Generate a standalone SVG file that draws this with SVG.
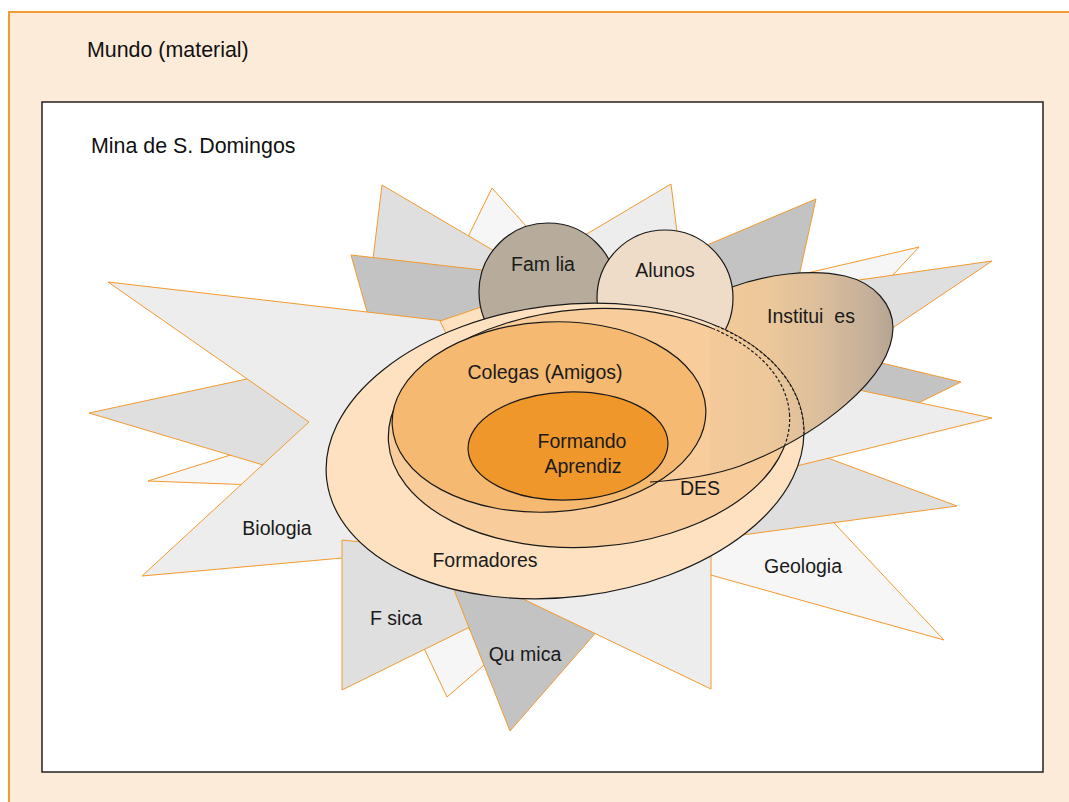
<svg xmlns="http://www.w3.org/2000/svg" width="1069" height="802" viewBox="0 0 1069 802">
<defs>
<style>
.ray{stroke:#F29A2E;stroke-width:1;stroke-linejoin:miter}
.g1{fill:#C3C3C3}.g2{fill:#DFDFDF}.g3{fill:#EDEDED}.g4{fill:#F6F6F6}.g5{fill:#FDE1C1}
.ol{stroke:#1A1A1A;stroke-width:1.2}
.dash{fill:none;stroke:#1A1A1A;stroke-width:1.2;stroke-dasharray:3 2}
.lbl{font-family:"Liberation Sans",Arial,sans-serif;font-size:19.5px;fill:#1A1A1A;text-anchor:middle}
.ttl{font-family:"Liberation Sans",Arial,sans-serif;font-size:21.4px;fill:#111}
</style>
<linearGradient id="instG" gradientUnits="userSpaceOnUse" x1="710" y1="0" x2="895" y2="0">
<stop offset="0" stop-color="#F4C99A"/>
<stop offset="0.3" stop-color="#EDC89A"/>
<stop offset="0.6" stop-color="#DBBE9C"/>
<stop offset="0.85" stop-color="#C6B09A"/>
<stop offset="1" stop-color="#B4A391"/>
</linearGradient>
<path id="instShape" d="M732,287 C765,275 810,268 845,276 C875,283 893,305 893,328 C892,378 820,435 740,466 C728,469 718,471 710,473 L710,330 L728,322 Z"/>
<clipPath id="clipF"><ellipse cx="565" cy="451" rx="240" ry="146" transform="rotate(-7 565 451)"/></clipPath>
<clipPath id="clipI"><use href="#instShape"/></clipPath>
</defs>

<rect x="9" y="12" width="1080" height="800" fill="#FCEBD8" stroke="#F09A38" stroke-width="2"/>
<text class="ttl" x="87" y="57">Mundo (material)</text>
<rect x="42" y="102" width="1001" height="670" fill="#FFFFFF" stroke="#222" stroke-width="1.5"/>
<text class="ttl" x="91" y="153">Mina de S. Domingos</text>

<g id="rays">
<polygon class="ray g4" points="492,188 535,236 548,292 466,241"/>
<polygon class="ray g2" points="382,185 530,272 548,300 368,300"/>
<polygon class="ray g1" points="351,255 500,272 490,330 375,340"/>
<polygon class="ray g3" points="671,184 678,240 600,300 580,238"/>
<polygon class="ray g1" points="816,199 796,290 720,300 700,248"/>
<polygon class="ray g4" points="919,247 880,289 840,300 790,277"/>
<polygon class="ray g2" points="992,261 845,282 850,320 885,333"/>
<polygon class="ray g1" points="961,382 865,359 860,400 900,412"/>
<polygon class="ray g4" points="148,481 240,452 270,468 255,485"/>
<polygon class="ray g2" points="89,413 270,374 320,430 280,470"/>
<polygon class="ray g3" points="108,282 462,323 560,450 420,551 142,576 309,422"/>
<polygon class="ray g5" points="440,321 484,306 520,340 452,345"/>
<polygon class="ray g4" points="447,697 490,660 460,615 422,644"/>
<polygon class="ray g2" points="342,690 480,622 440,550 342,540"/>
<polygon class="ray g1" points="510,731 620,605 540,520 445,567"/>
<polygon class="ray g4" points="944,640 820,508 720,540 705,560 700,572"/>
<polygon class="ray g2" points="957,506 790,444 720,538"/>
<polygon class="ray g3" points="992,418 835,385 760,475"/>
<polygon class="ray g3" points="711,689 711,545 600,480 500,588"/>
</g>

<g id="instituicoes-base">
<use href="#instShape" fill="url(#instG)"/>
</g>

<g id="familia">
<circle cx="548" cy="292" r="69" fill="#B7AB9B" class="ol"/>
<text class="lbl" x="543" y="271" xml:space="preserve">Fam lia</text>
</g>
<g id="alunos">
<circle cx="665" cy="298" r="68" fill="#EEDCC8" class="ol"/>
<text class="lbl" x="665" y="277">Alunos</text>
</g>

<g id="formadores">
<ellipse cx="565" cy="451" rx="240" ry="146" transform="rotate(-7 565 451)" fill="#FDE1C1" class="ol"/>
<text class="lbl" x="485" y="567">Formadores</text>
</g>
<g id="des">
<ellipse cx="589" cy="428" rx="201" ry="119" transform="rotate(-4 589 428)" fill="#F9CD9B" class="ol"/>
</g>
<g id="colegas">
<ellipse cx="549" cy="417" rx="157" ry="95" transform="rotate(-3 549 417)" fill="#F5B971" class="ol"/>
<text class="lbl" x="545" y="379">Colegas (Amigos)</text>
</g>

<g id="instituicoes">
<use href="#instShape" fill="url(#instG)" clip-path="url(#clipF)"/>
<g clip-path="url(#clipI)">
<ellipse class="dash" cx="565" cy="451" rx="240" ry="146" transform="rotate(-7 565 451)"/>
<ellipse class="dash" cx="589" cy="428" rx="201" ry="119" transform="rotate(-4 589 428)"/>
</g>
<path d="M732,287 C765,275 810,268 845,276 C875,283 893,305 893,328 C892,378 820,435 740,466 C715,475 680,480 650,482" fill="none" class="ol"/>
<text class="lbl" x="811" y="323" xml:space="preserve">Institui  es</text>
<text class="lbl" x="700" y="495">DES</text>
</g>

<g id="formando">
<ellipse cx="568" cy="446" rx="100" ry="54" transform="rotate(-2 568 446)" fill="#EF972B" class="ol"/>
<text class="lbl" x="582" y="448">Formando</text>
<text class="lbl" x="583" y="473">Aprendiz</text>
</g>

<g id="labels">
<text class="lbl" x="277" y="535">Biologia</text>
<text class="lbl" x="803" y="573">Geologia</text>
<text class="lbl" x="396" y="625" xml:space="preserve">F sica</text>
<text class="lbl" x="525" y="661" xml:space="preserve">Qu mica</text>
</g>
</svg>
